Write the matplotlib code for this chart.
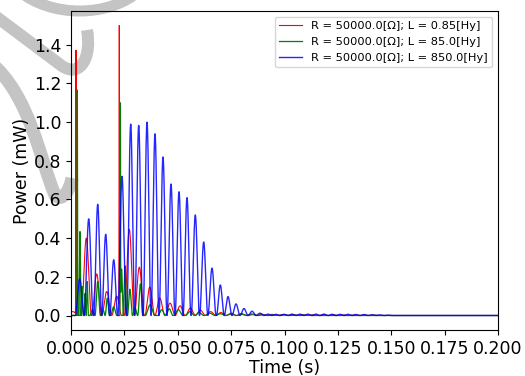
import numpy as np
import matplotlib
matplotlib.use("Agg")
import matplotlib.pyplot as plt
from matplotlib.path import Path
from matplotlib.patches import PathPatch

# peaks: (time [s], power [mW])
red_spike_t = [0.00234, 0.02262]
red_spike_p = [1.372, 1.50]
red_t = [0.0008, 0.00717, 0.01204, 0.01672, 0.0214,
         0.0273, 0.0320, 0.0369, 0.0416, 0.0464, 0.0511, 0.0559, 0.0606,
         0.0654, 0.0702, 0.0750, 0.0798, 0.0846, 0.0894, 0.0942, 0.0990,
         0.1038, 0.1086, 0.1134, 0.1182, 0.1230, 0.1278, 0.1326, 0.1374, 0.1422]
red_p = [0.02, 0.40, 0.215, 0.124, 0.10,
         0.446, 0.25, 0.147, 0.09, 0.064, 0.05, 0.038, 0.028,
         0.02, 0.015, 0.012, 0.010, 0.008, 0.007, 0.006, 0.005,
         0.005, 0.004, 0.004, 0.004, 0.003, 0.003, 0.003, 0.002, 0.002]

green_spike_t = [0.00295, 0.0231]
green_spike_p = [1.166, 1.10]
green_t = [0.0042, 0.0052, 0.0066, 0.0076, 0.0100, 0.0125, 0.0150, 0.0170, 0.0200,
           0.0237, 0.0253, 0.0276, 0.0300, 0.0325, 0.0370, 0.0425, 0.0460, 0.0503,
           0.0557, 0.0600, 0.0650, 0.0700, 0.0750, 0.0800, 0.0850, 0.0900,
           0.0950, 0.1000, 0.1050, 0.1100]
green_p = [0.434, 0.15, 0.115, 0.175, 0.03, 0.176, 0.03, 0.09, 0.045,
           0.24, 0.257, 0.136, 0.04, 0.164, 0.055, 0.03, 0.035, 0.03,
           0.02, 0.015, 0.012, 0.009, 0.007, 0.006, 0.005, 0.004,
           0.003, 0.003, 0.002, 0.002]

blue_t = [0.00407, 0.00829, 0.01251, 0.01625, 0.02000, 0.02389, 0.02796, 0.03171,
          0.03560, 0.03934, 0.04309, 0.04684, 0.05059, 0.05433, 0.05822, 0.06215,
          0.06604, 0.06993, 0.07354, 0.07728, 0.08103, 0.08478, 0.08852, 0.09227,
          0.09602, 0.09977, 0.10352, 0.10727, 0.11102, 0.11477, 0.11852, 0.12227,
          0.12602, 0.12977, 0.13352, 0.13727, 0.14102, 0.14477, 0.14852]
blue_p = [0.19, 0.50, 0.575, 0.42, 0.288, 0.72, 0.99, 0.983,
          1.0, 0.94, 0.82, 0.68, 0.64, 0.61, 0.52, 0.38,
          0.245, 0.158, 0.098, 0.06, 0.036, 0.022, 0.012, 0.007,
          0.006, 0.006, 0.007, 0.007, 0.007, 0.007, 0.007, 0.006,
          0.006, 0.006, 0.005, 0.005, 0.004, 0.003, 0.002]

labels = ["R = 50000.0[Ω]; L = 0.85[Hy]",
          "R = 50000.0[Ω]; L = 85.0[Hy]",
          "R = 50000.0[Ω]; L = 850.0[Hy]"]

t = np.linspace(0, 0.2, 40001)


def bumps(tp, hp, spike_t=(), spike_p=()):
    tp = np.asarray(tp)
    gaps = np.diff(tp)
    widths = np.minimum(np.r_[gaps[0], gaps], np.r_[gaps, gaps[-1]])
    y = np.zeros_like(t)
    for c, h, w in zip(tp, hp, widths):
        m = np.abs(t - c) < w / 2
        y[m] = np.maximum(y[m], h * np.cos(np.pi * (t[m] - c) / w) ** 2)
    for c, h in zip(spike_t, spike_p):
        m = np.abs(t - c) < 0.00025
        y[m] = np.maximum(y[m], h * np.cos(np.pi * (t[m] - c) / 0.0005) ** 2)
    return y


plt.rcParams['font.size'] = 12.5

fig = plt.figure(figsize=(5.25, 3.76), dpi=100)
ax = fig.add_axes([71 / 525, 1 - 330 / 376, 427 / 525, 319 / 376])
ax.patch.set_alpha(0)

# grey watermark behind everything
W, H = 525, 376
def px(pts):
    return [(x / W, 1 - y / H) for x, y in pts]

strokes = [
    ([(18, -10), (50, 18), (110, 18), (140, -10)], 11),
    ([(-10, 12), (62, 66), (62, 66), (62, 66), (80, 78), (92, 58), (87, 30)], 12),
    ([(-10, 62), (30, 95), (40, 160), (55, 195), (62, 203), (70, 190), (72, 178)], 13),
]
for pts, lw in strokes:
    n = len(pts)
    codes = [Path.MOVETO] + [Path.CURVE4] * (n - 1)
    patch = PathPatch(Path(px(pts), codes), transform=fig.transFigure, fill=False,
                      edgecolor='#c4c4c4', lw=lw * 0.72, capstyle='butt', zorder=-1)
    fig.patches.append(patch)

ax.plot(t, bumps(red_t, red_p, red_spike_t, red_spike_p), color='red', lw=0.8, label=labels[0])
ax.plot(t, bumps(green_t, green_p, green_spike_t, green_spike_p), color='green', lw=0.9, label=labels[1])
ax.plot(t, bumps(blue_t, blue_p), color='blue', lw=1.0, alpha=0.85, label=labels[2])

ax.set_xlim(0, 0.2)
ax.set_ylim(-0.075, 1.575)
ax.set_xticks(np.arange(0, 0.2001, 0.025))
ax.set_yticks(np.arange(0, 1.41, 0.2))
ax.set_xlabel('Time (s)', labelpad=1)
ax.set_ylabel('Power (mW)', labelpad=2)
ax.legend(loc='upper right', fontsize=8.2)

fig.savefig('out.png', dpi=100)
